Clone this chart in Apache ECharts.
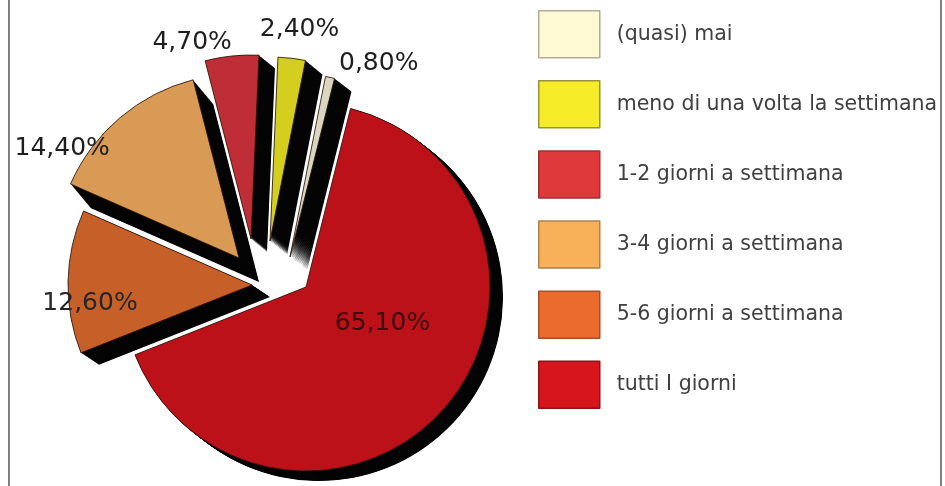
<!DOCTYPE html>
<html>
<head>
<meta charset="utf-8">
<script src="https://cdn.jsdelivr.net/npm/echarts@6/dist/echarts.min.js"></script>
<style>
  html, body { margin: 0; padding: 0; background: #ffffff; }
  #frame {
    position: absolute; left: 8px; top: 0; width: 930px; height: 486px;
    border-left: 2px solid #808080; border-right: 2px solid #808080;
  }
  #chart { position: absolute; left: 0; top: 0; width: 945px; height: 486px; }
</style>
</head>
<body>
<div id="frame"></div>
<div id="chart"></div>
<script>
// Frequency categories, in legend order (counter-clockwise around the pie)
const categories = [
  '(quasi) mai',
  'meno di una volta la settimana',
  '1-2 giorni a settimana',
  '3-4 giorni a settimana',
  '5-6 giorni a settimana',
  'tutti I giorni'
];
// Share of answers, percent
const shares = [0.8, 2.4, 4.7, 14.4, 12.6, 65.1];

// Face colours of the slices and of the legend keys
const sliceColors  = ['#dad6c0', '#d4cf1f', '#bf2e36', '#d99a56', '#c65f28', '#bd111a'];
const legendColors = ['#fff9d4', '#f7ec28', '#df393b', '#f9b159', '#eb6a2e', '#d7151d'];
const legendBorders = ['#b4ac94', '#98903a', '#9b3431', '#a9834e', '#a3512a', '#8c1515'];

// Exploded layout: centre of each slice, depth of its black extrusion, label placement
const pieRadius = 184;
const pieStart = 76;
const sliceCenters = [[290, 257], [270, 241], [251, 239], [239, 258], [252, 285], [306, 287]];
const sliceDepth   = [[17, 13], [17, 14], [16, 13], [20, 24], [18, 12], [13, 10]];
const labelPlace   = ['outside', 'outside', 'outside', 'outside', 'inside', 'inside'];
const labelShift   = [[4, -14], [-37, -29], [5, -14], [-5, 31], [-67, 20], [5, -26]];
const labelColors  = ['#1e1e1e', '#1e1e1e', '#1e1e1e', '#1e1e1e', '#262626', '#3a0a0c'];
const depthSteps = 30;

const fmtShare = p => p.value.toFixed(2).replace('.', ',') + '%';

function sliceSeries(idx, center, fill, withLabel, z) {
  return {
    type: 'pie',
    name: 'slice' + idx + (withLabel ? '' : '-depth'),
    z: z,
    silent: true,
    animation: false,
    clockwise: false,
    startAngle: pieStart,
    radius: [0, pieRadius],
    center: center,
    avoidLabelOverlap: false,
    emphasis: { disabled: true },
    labelLine: { show: false, length: 0, length2: 0 },
    labelLayout: withLabel ? { dx: labelShift[idx][0], dy: labelShift[idx][1] } : undefined,
    data: categories.map((name, i) => ({
      name: name,
      value: shares[i],
      itemStyle: i === idx
        ? (withLabel
            ? { color: fill, borderColor: 'rgba(45,20,10,0.85)', borderWidth: 1 }
            : { color: fill, borderWidth: 0 })
        : { color: 'rgba(0,0,0,0)', borderWidth: 0 },
      label: (withLabel && i === idx)
        ? {
            show: true,
            position: labelPlace[idx],
            formatter: fmtShare,
            fontFamily: 'DejaVu Sans',
            fontSize: 25,
            color: labelColors[idx]
          }
        : { show: false }
    }))
  };
}

const series = [];
// black extrusion under every slice
categories.forEach((_, i) => {
  for (let k = depthSteps; k >= 1; k--) {
    const c = [
      sliceCenters[i][0] + sliceDepth[i][0] * k / depthSteps,
      sliceCenters[i][1] + sliceDepth[i][1] * k / depthSteps
    ];
    series.push(sliceSeries(i, c, '#050505', false, 1));
  }
});
// coloured faces on top
categories.forEach((_, i) => {
  series.push(sliceSeries(i, sliceCenters[i], sliceColors[i], true, 3));
});

const chart = echarts.init(document.getElementById('chart'), null, { renderer: 'canvas' });
chart.setOption({
  backgroundColor: 'transparent',
  animation: false,
  legend: {
    orient: 'vertical',
    left: 538,
    top: 10,
    padding: 0,
    itemWidth: 61,
    itemHeight: 47,
    itemGap: 21.6,
    icon: 'rect',
    selectedMode: false,
    textStyle: {
      fontFamily: 'DejaVu Sans',
      fontSize: 20.5,
      color: '#404040',
      padding: [0, 0, 0, 12]
    },
    data: categories.map((name, i) => ({
      name: name,
      itemStyle: { color: legendColors[i], borderColor: legendBorders[i], borderWidth: 1.5 }
    }))
  },
  series: series
});
</script>
</body>
</html>
